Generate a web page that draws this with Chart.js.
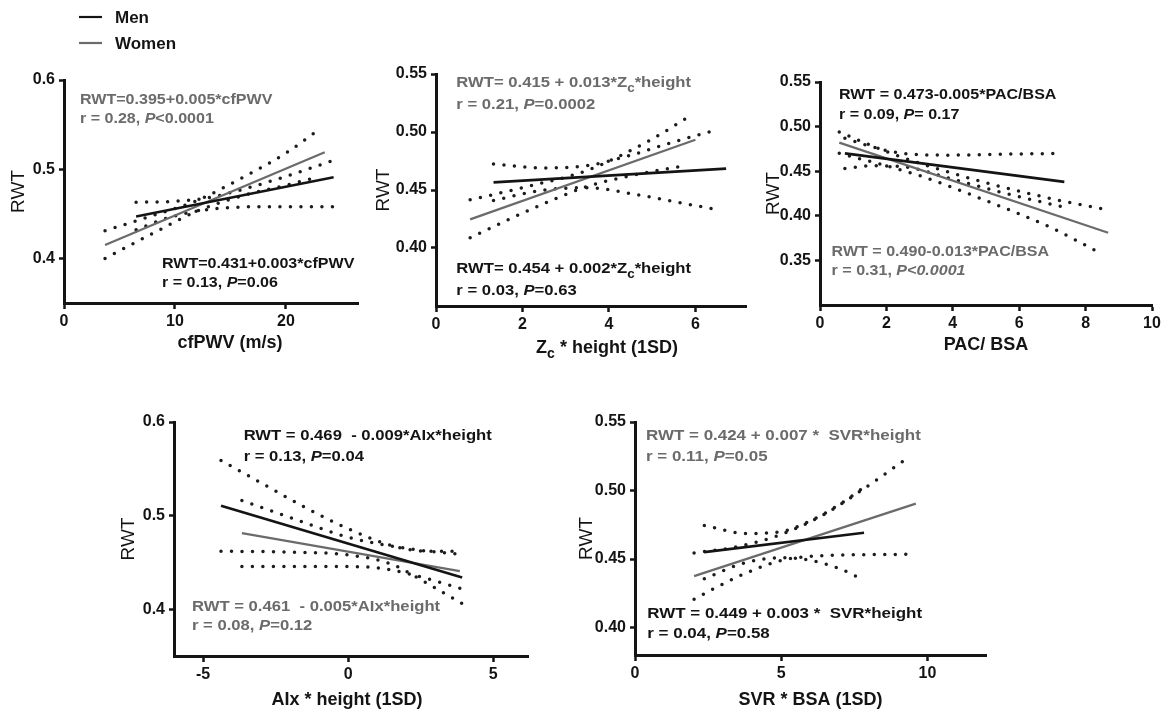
<!DOCTYPE html>
<html>
<head>
<meta charset="utf-8">
<script src="https://cdn.jsdelivr.net/npm/chart.js@4.4.0/dist/chart.umd.min.js"></script>
<style>
html, body { margin: 0; padding: 0; background: #fff; }
body { width: 1164px; height: 712px; position: relative; overflow: hidden; }
canvas { position: absolute; }
</style>
</head>
<body>
<script>
'use strict'
// ---- data (x, RWT) ----
const seriesNames = ['Men', 'Women'];

// cfPWV (m/s)
const p1XTicks = [0, 10, 20];
const p1YTicks = [0.4, 0.5, 0.6];
const p1MenFit = [[6.5, 0.447], [24.3, 0.491]];
const p1WomenFit = [[3.7, 0.415], [23.5, 0.519]];
const p1MenUpper = [[6.5, 0.463], [10, 0.464], [13, 0.468], [16, 0.477], [20, 0.492], [24.3, 0.510]];
const p1MenLower = [[6.5, 0.432], [9, 0.444], [12, 0.453], [15, 0.457], [18, 0.458], [24.3, 0.458]];
const p1WomenUpper = [[3.7, 0.431], [8, 0.448], [12, 0.465], [16, 0.490], [20, 0.518], [22.5, 0.540]];
const p1WomenLower = [[3.7, 0.400], [8, 0.428], [12, 0.453], [16, 0.470], [20, 0.482], [22.8, 0.491]];

// Zc * height (1SD)
const p2XTicks = [0, 2, 4, 6];
const p2YTicks = [0.40, 0.45, 0.50, 0.55];
const p2MenFit = [[1.33, 0.4565], [6.71, 0.4684]];
const p2WomenFit = [[0.79, 0.4247], [6.0, 0.4933]];
const p2MenUpper = [[1.33, 0.4725], [2.5, 0.469], [3.5, 0.471], [4.5, 0.480], [5.5, 0.4915], [6.53, 0.5023]];
const p2MenLower = [[1.33, 0.441], [2.5, 0.450], [3.5, 0.452], [4.5, 0.447], [5.5, 0.440], [6.53, 0.433]];
const p2WomenUpper = [[0.79, 0.4415], [2, 0.452], [3.5, 0.467], [5, 0.494], [5.92, 0.515]];
const p2WomenLower = [[0.79, 0.4088], [2, 0.430], [3.5, 0.453], [5, 0.466], [5.76, 0.471]];

// PAC/ BSA
const p3XTicks = [0, 2, 4, 6, 8, 10];
const p3YTicks = [0.35, 0.40, 0.45, 0.50, 0.55];
const p3MenFit = [[0.75, 0.470], [7.36, 0.438]];
const p3WomenFit = [[0.58, 0.482], [8.68, 0.381]];
const p3MenUpper = [[0.75, 0.487], [1.5, 0.478], [2.5, 0.470], [4, 0.468], [5.5, 0.469], [7.3, 0.470]];
const p3MenLower = [[0.75, 0.453], [1.5, 0.456], [2.5, 0.455], [4, 0.441], [5.5, 0.426], [7.3, 0.410]];
const p3WomenUpper = [[0.58, 0.494], [2, 0.472], [3, 0.459], [5, 0.437], [7, 0.419], [8.6, 0.407]];
const p3WomenLower = [[0.58, 0.470], [2, 0.456], [3, 0.445], [5, 0.417], [7, 0.386], [8.4, 0.359]];

// AIx * height (1SD)
const p4XTicks = [-5, 0, 5];
const p4YTicks = [0.4, 0.5, 0.6];
const p4MenFit = [[-4.38, 0.5105], [3.93, 0.4338]];
const p4WomenFit = [[-3.66, 0.4813], [3.85, 0.4406]];
const p4MenUpper = [[-4.38, 0.559], [-3, 0.535], [-1.5, 0.509], [0, 0.486], [1.5, 0.468], [2.7, 0.462], [3.93, 0.462]];
const p4MenLower = [[-4.38, 0.462], [-2, 0.461], [0, 0.458], [1.5, 0.448], [2.7, 0.428], [3.93, 0.406]];
const p4WomenUpper = [[-3.66, 0.516], [-2, 0.498], [0, 0.477], [2, 0.465], [3.85, 0.4586]];
const p4WomenLower = [[-3.66, 0.4456], [-1, 0.4456], [0.7, 0.445], [2.2, 0.437], [3.85, 0.4225]];

// SVR * BSA (1SD)
const p5XTicks = [0, 5, 10];
const p5YTicks = [0.40, 0.45, 0.50, 0.55];
const p5MenFit = [[2.37, 0.4551], [7.83, 0.4692]];
const p5WomenFit = [[2.02, 0.4376], [9.6, 0.4905]];
const p5MenUpper = [[2.37, 0.4745], [3.8, 0.4687], [5, 0.470], [6, 0.478], [7, 0.490], [7.8, 0.502]];
const p5MenLower = [[2.37, 0.4357], [3.8, 0.4475], [5, 0.451], [6, 0.449], [7, 0.443], [7.54, 0.4376]];
const p5WomenUpper = [[2.02, 0.4545], [3.5, 0.459], [5, 0.468], [6.5, 0.483], [7.8, 0.501], [9.43, 0.5255]];
const p5WomenLower = [[2.02, 0.4207], [3.5, 0.437], [5, 0.449], [6.5, 0.4525], [9.6, 0.4535]];

// ---- look ----
const FAMILY = '"Liberation Sans", Arial, Helvetica, sans-serif';
const INK = '#141414';
const GRAY = '#6b6b6b';
const DOT = '#1c1c1c';

// _{..} = subscript, ~..~ = italic
const panels = [
  { box: {L: 64, T: 80, R: 358, B: 303}, x: [0, 26.5], y: [0.35, 0.6], dec: 1, yOff: 46, padTop: 80,
    xTicks: p1XTicks, yTicks: p1YTicks, xTitle: 'cfPWV (m/s)', shift: 19, drop: 40, legend: true,
    men: p1MenFit, women: p1WomenFit, bands: [p1MenUpper, p1MenLower, p1WomenUpper, p1WomenLower],
    notes: [
      {at: [1.44, 0.573], gap: 19, sx: 1.07, color: GRAY, lines: ['RWT=0.395+0.005*cfPWV', 'r = 0.28, ~P~<0.0001']},
      {at: [8.83, 0.389], gap: 19, sx: 1.07, color: INK, lines: ['RWT=0.431+0.003*cfPWV', 'r = 0.13, ~P~=0.06']}
    ] },
  { box: {L: 436, T: 74, R: 746, B: 306}, x: [0, 7.17], y: [0.35, 0.55], dec: 2, yOff: 53, padTop: 20,
    xTicks: p2XTicks, yTicks: p2YTicks, xTitle: 'Z_{c} * height (1SD)', shift: 16, drop: 42,
    men: p2MenFit, women: p2WomenFit, bands: [p2MenUpper, p2MenLower, p2WomenUpper, p2WomenLower],
    notes: [
      {at: [0.47, 0.5385], gap: 22, sx: 1.11, color: GRAY, lines: ['RWT= 0.415 + 0.013*Z_{c}*height', 'r = 0.21, ~P~=0.0002']},
      {at: [0.47, 0.3784], gap: 22, sx: 1.11, color: INK, lines: ['RWT= 0.454 + 0.002*Z_{c}*height', 'r = 0.03, ~P~=0.63']}
    ] },
  { box: {L: 820, T: 82, R: 1152, B: 305}, x: [0, 10], y: [0.30, 0.55], dec: 2, yOff: 47, padTop: 20,
    xTicks: p3XTicks, yTicks: p3YTicks, xTitle: 'PAC/ BSA', shift: 0, drop: 40,
    men: p3MenFit, women: p3WomenFit, bands: [p3MenUpper, p3MenLower, p3WomenUpper, p3WomenLower],
    notes: [
      {at: [0.57, 0.5309], gap: 20, sx: 1.07, color: INK, lines: ['RWT = 0.473-0.005*PAC/BSA', 'r = 0.09, ~P~= 0.17']},
      {at: [0.35, 0.3547], gap: 19, sx: 1.07, color: GRAY, lines: ['RWT = 0.490-0.013*PAC/BSA', 'r = 0.31, ~P<0.0001~']}
    ] },
  { box: {L: 174, T: 422, R: 528, B: 656}, x: [-6, 6.2], y: [0.35, 0.6], dec: 1, yOff: 46, padTop: 20,
    xTicks: p4XTicks, yTicks: p4YTicks, xTitle: 'AIx * height (1SD)', shift: -4, drop: 44,
    men: p4MenFit, women: p4WomenFit, bands: [p4MenUpper, p4MenLower, p4WomenUpper, p4WomenLower],
    notes: [
      {at: [-3.6, 0.581], gap: 21, sx: 1.11, color: INK, lines: ['RWT = 0.469  - 0.009*AIx*height', 'r = 0.13, ~P~=0.04']},
      {at: [-5.38, 0.3984], gap: 19, sx: 1.11, color: GRAY, lines: ['RWT = 0.461  - 0.005*AIx*height', 'r = 0.08, ~P~=0.12']}
    ] },
  { box: {L: 635, T: 422, R: 986, B: 655}, x: [0, 12], y: [0.38, 0.55], dec: 2, yOff: 49, padTop: 20,
    xTicks: p5XTicks, yTicks: p5YTicks, xTitle: 'SVR * BSA (1SD)', shift: 0, drop: 45,
    men: p5MenFit, women: p5WomenFit, bands: [p5MenUpper, p5MenLower, p5WomenUpper, p5WomenLower],
    notes: [
      {at: [0.377, 0.5371], gap: 21, sx: 1.13, color: GRAY, lines: ['RWT = 0.424 + 0.007 *  SVR*height', 'r = 0.11, ~P~=0.05']},
      {at: [0.42, 0.4073], gap: 20, sx: 1.13, color: INK, lines: ['RWT = 0.449 + 0.003 *  SVR*height', 'r = 0.04, ~P~=0.58']}
    ] }
];

function toXY(arr) {
  return arr.map(([x, y]) => ({x: x, y: y}));
}

function parseRich(str) {
  const out = [];
  const re = /_\{([^}]*)\}|~([^~]*)~|([^_~]+)/g;
  let m;
  while ((m = re.exec(str))) {
    if (m[1] !== undefined) out.push({t: m[1], sub: true});
    else if (m[2] !== undefined) out.push({t: m[2], it: true});
    else out.push({t: m[3]});
  }
  return out;
}

function drawRich(ctx, str, x, y, size, color, sx, align, baseline) {
  const segs = parseRich(str).map(s => {
    const fs = s.sub ? Math.round(size * 0.78) : size;
    const font = (s.it ? 'italic ' : '') + 'bold ' + fs + 'px ' + FAMILY;
    ctx.font = font;
    return {t: s.t, sub: s.sub, font: font, w: ctx.measureText(s.t).width};
  });
  const total = segs.reduce((a, s) => a + s.w, 0) * sx;
  let cx = align === 'center' ? x - total / 2 : x;
  ctx.fillStyle = color;
  ctx.textAlign = 'left';
  ctx.textBaseline = baseline || 'alphabetic';
  segs.forEach(s => {
    ctx.font = s.font;
    ctx.save();
    ctx.translate(cx, y + (s.sub ? size * 0.32 : 0));
    ctx.scale(sx, 1);
    ctx.fillText(s.t, 0, 0);
    ctx.restore();
    cx += s.w * sx;
  });
}

function makeNotes(p, offset) {
  return {
    id: 'notes',
    afterDraw(chart) {
      const ctx = chart.ctx;
      const xs = chart.scales.x, ys = chart.scales.y;
      const a = chart.chartArea;
      ctx.save();
      p.notes.forEach(n => {
        const x0 = xs.getPixelForValue(n.at[0]);
        const y0 = ys.getPixelForValue(n.at[1]);
        n.lines.forEach((line, i) => drawRich(ctx, line, x0, y0 + i * n.gap, 15, n.color, n.sx, 'left'));
      });
      drawRich(ctx, p.xTitle, (a.left + a.right) / 2 + p.shift, a.bottom + p.drop, 18, INK, 1, 'center', 'middle');
      if (p.legend) {
        // legend sits above the first panel
        chart.data.datasets.slice(0, 2).forEach((ds, i) => {
          const ly = 17 + i * 26 - offset.top;
          const lx = 79 - offset.left;
          ctx.strokeStyle = ds.borderColor;
          ctx.lineWidth = 2.2;
          ctx.beginPath();
          ctx.moveTo(lx, ly);
          ctx.lineTo(lx + 23, ly);
          ctx.stroke();
          ctx.fillStyle = INK;
          ctx.font = 'bold 17px ' + FAMILY;
          ctx.textBaseline = 'middle';
          ctx.textAlign = 'left';
          ctx.fillText(ds.label, lx + 36, ly + 1);
        });
      }
      ctx.restore();
    }
  };
}

function dotted(arr, color) {
  return {
    label: 'CI', data: toXY(arr), showLine: true, pointRadius: 0, borderColor: color,
    borderWidth: 3.5, borderDash: [0, 10.5], borderCapStyle: 'round',
    cubicInterpolationMode: 'monotone', order: 2
  };
}

panels.forEach(p => {
  const b = p.box;
  const wy = p.yOff + 13;
  const hx = 28;
  const padRight = 22, padBottom = 34;
  const left = b.L - wy, top = b.T - p.padTop;
  const cv = document.createElement('canvas');
  cv.width = (b.R - b.L) + wy + padRight;
  cv.height = p.padTop + (b.B - b.T) + hx + padBottom;
  cv.style.left = left + 'px';
  cv.style.top = top + 'px';
  document.body.appendChild(cv);

  const datasets = [
    {label: seriesNames[0], data: toXY(p.men), showLine: true, pointRadius: 0, borderColor: INK, borderWidth: 2.7, order: 0},
    {label: seriesNames[1], data: toXY(p.women), showLine: true, pointRadius: 0, borderColor: GRAY, borderWidth: 2.3, order: 1},
    dotted(p.bands[0], DOT),
    dotted(p.bands[1], DOT),
    dotted(p.bands[2], DOT),
    dotted(p.bands[3], DOT)
  ];

  new Chart(cv.getContext('2d'), {
    type: 'scatter',
    data: {datasets: datasets},
    options: {
      responsive: false,
      animation: false,
      devicePixelRatio: 1,
      layout: {padding: {left: 0, top: p.padTop, right: padRight, bottom: padBottom}},
      plugins: {legend: {display: false}, tooltip: {enabled: false}},
      scales: {
        x: {
          type: 'linear', min: p.x[0], max: p.x[1],
          afterBuildTicks: s => { s.ticks = p.xTicks.map(v => ({value: v})); },
          afterFit: s => { s.height = hx; },
          ticks: {font: {family: FAMILY, size: 16, weight: 'bold'}, color: INK, padding: 3, maxRotation: 0, autoSkip: false},
          grid: {drawOnChartArea: false, drawTicks: true, tickLength: 6, tickColor: INK, tickWidth: 2.5},
          border: {display: true, color: INK, width: 3}
        },
        y: {
          type: 'linear', min: p.y[0], max: p.y[1],
          afterBuildTicks: s => { s.ticks = p.yTicks.map(v => ({value: v})); },
          afterFit: s => { s.width = wy; },
          ticks: {font: {family: FAMILY, size: 16, weight: 'bold'}, color: INK, padding: 4, autoSkip: false,
                  callback: v => Number(v).toFixed(p.dec)},
          grid: {drawOnChartArea: false, drawTicks: true, tickLength: 5, tickColor: INK, tickWidth: 2.5},
          border: {display: true, color: INK, width: 3},
          title: {display: true, text: 'RWT', color: INK, font: {family: FAMILY, size: 19, weight: 'normal'}, padding: {top: 2, bottom: 0}}
        }
      }
    },
    plugins: [makeNotes(p, {left: left, top: top})]
  });
});
</script>
</body>
</html>
